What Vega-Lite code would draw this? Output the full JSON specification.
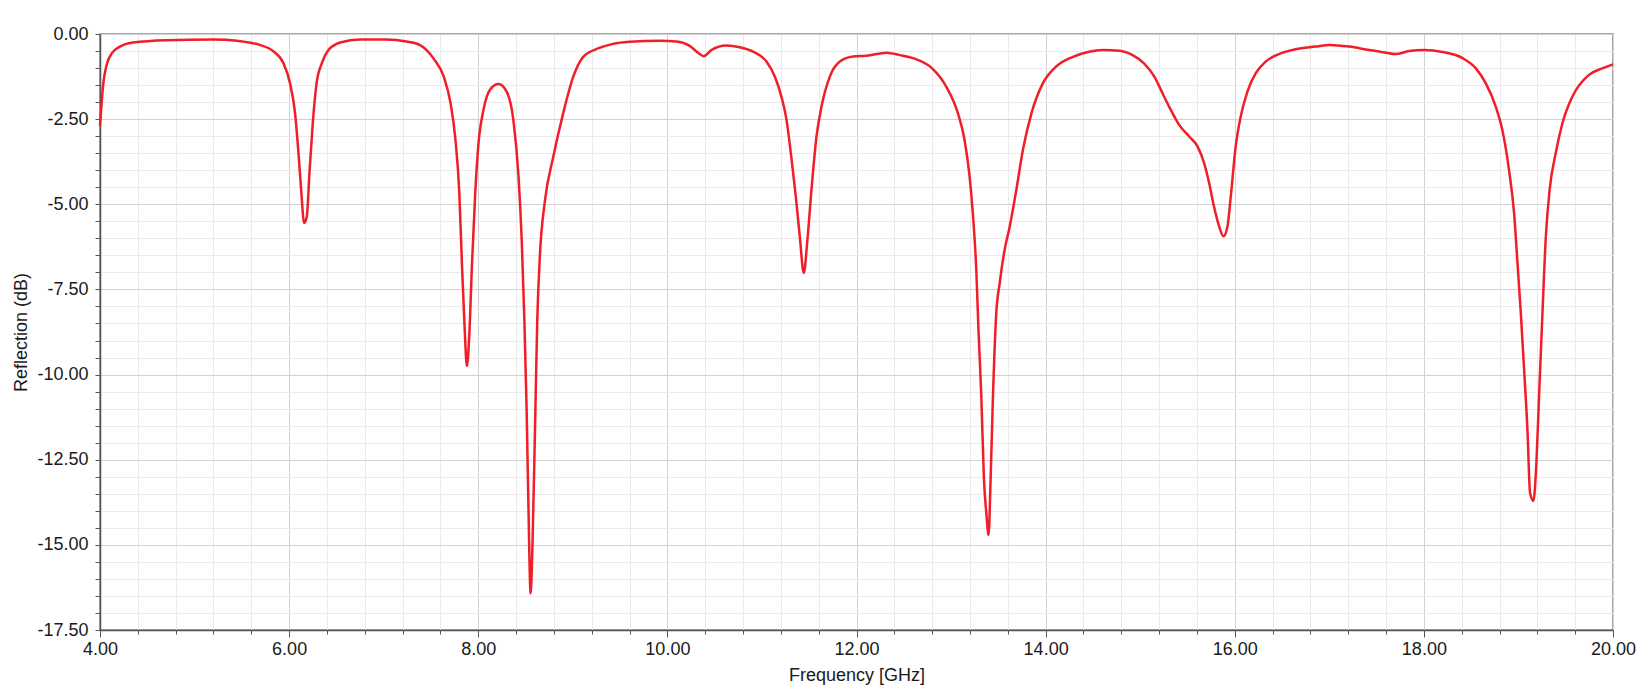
{
  "$schema": "https://vega.github.io/schema/vega-lite/v6.json",
  "width": 1513,
  "height": 596,
  "autosize": {"type": "none"},
  "padding": {"left": 100, "top": 34, "right": 27, "bottom": 62},
  "background": "white",
  "config": {
    "view": {"stroke": "#8c8c8c", "strokeWidth": 1.5},
    "font": "Liberation Sans",
    "axis": {"labelFont": "Liberation Sans", "titleFont": "Liberation Sans", "labelColor": "#1a1a1a", "titleColor": "#1a1a1a", "titleFontWeight": "normal", "labelFontSize": 18, "titleFontSize": 18, "labelOverlap": false, "labelBound": false, "labelFlush": false}
  },
  "data": {"values": [
    {"f": 4.0, "db": -2.7}, {"f": 4.035, "db": -1.45}, {"f": 4.07, "db": -0.91}, {"f": 4.124, "db": -0.57},
    {"f": 4.21, "db": -0.37}, {"f": 4.35, "db": -0.25}, {"f": 4.7, "db": -0.18}, {"f": 5.2, "db": -0.16},
    {"f": 5.45, "db": -0.2}, {"f": 5.69, "db": -0.32}, {"f": 5.83, "db": -0.5}, {"f": 5.94, "db": -0.86},
    {"f": 6.01, "db": -1.45}, {"f": 6.063, "db": -2.33}, {"f": 6.099, "db": -3.5}, {"f": 6.127, "db": -4.57},
    {"f": 6.159, "db": -5.55}, {"f": 6.187, "db": -5.36}, {"f": 6.215, "db": -4.08}, {"f": 6.25, "db": -2.62},
    {"f": 6.29, "db": -1.45}, {"f": 6.345, "db": -0.86}, {"f": 6.416, "db": -0.47}, {"f": 6.54, "db": -0.25},
    {"f": 6.75, "db": -0.16}, {"f": 7.03, "db": -0.16}, {"f": 7.24, "db": -0.22}, {"f": 7.38, "db": -0.32},
    {"f": 7.53, "db": -0.73}, {"f": 7.636, "db": -1.26}, {"f": 7.705, "db": -2.0}, {"f": 7.758, "db": -3.08},
    {"f": 7.8, "db": -4.68}, {"f": 7.828, "db": -6.8}, {"f": 7.856, "db": -8.63}, {"f": 7.88, "db": -9.75},
    {"f": 7.905, "db": -8.85}, {"f": 7.933, "db": -6.8}, {"f": 7.968, "db": -4.68}, {"f": 8.0, "db": -3.29},
    {"f": 8.056, "db": -2.22}, {"f": 8.126, "db": -1.63}, {"f": 8.214, "db": -1.47}, {"f": 8.3, "db": -1.69},
    {"f": 8.372, "db": -2.54}, {"f": 8.425, "db": -4.15}, {"f": 8.46, "db": -6.07}, {"f": 8.488, "db": -8.42},
    {"f": 8.512, "db": -11.09}, {"f": 8.53, "db": -13.76}, {"f": 8.554, "db": -16.43}, {"f": 8.575, "db": -14.83},
    {"f": 8.6, "db": -11.62}, {"f": 8.624, "db": -8.42}, {"f": 8.652, "db": -6.5}, {"f": 8.705, "db": -4.9},
    {"f": 8.793, "db": -3.61}, {"f": 8.898, "db": -2.33}, {"f": 9.004, "db": -1.26}, {"f": 9.11, "db": -0.67},
    {"f": 9.28, "db": -0.41}, {"f": 9.425, "db": -0.29}, {"f": 9.6, "db": -0.23}, {"f": 9.92, "db": -0.2},
    {"f": 10.095, "db": -0.22}, {"f": 10.236, "db": -0.35}, {"f": 10.325, "db": -0.55}, {"f": 10.385, "db": -0.65},
    {"f": 10.466, "db": -0.47}, {"f": 10.624, "db": -0.34}, {"f": 10.765, "db": -0.39}, {"f": 10.906, "db": -0.52},
    {"f": 11.048, "db": -0.81}, {"f": 11.136, "db": -1.25}, {"f": 11.206, "db": -1.84}, {"f": 11.26, "db": -2.52},
    {"f": 11.31, "db": -3.6}, {"f": 11.358, "db": -4.77}, {"f": 11.4, "db": -5.94}, {"f": 11.443, "db": -7.02},
    {"f": 11.478, "db": -6.14}, {"f": 11.524, "db": -4.57}, {"f": 11.577, "db": -3.01}, {"f": 11.63, "db": -2.13},
    {"f": 11.718, "db": -1.25}, {"f": 11.824, "db": -0.81}, {"f": 11.965, "db": -0.66}, {"f": 12.106, "db": -0.64},
    {"f": 12.317, "db": -0.55}, {"f": 12.459, "db": -0.62}, {"f": 12.597, "db": -0.71}, {"f": 12.8, "db": -1.01},
    {"f": 12.95, "db": -1.55}, {"f": 13.073, "db": -2.33}, {"f": 13.143, "db": -3.11}, {"f": 13.196, "db": -4.19},
    {"f": 13.23, "db": -5.26}, {"f": 13.267, "db": -6.93}, {"f": 13.29, "db": -8.69}, {"f": 13.32, "db": -10.65},
    {"f": 13.348, "db": -13.09}, {"f": 13.373, "db": -14.07}, {"f": 13.397, "db": -14.71}, {"f": 13.418, "db": -13.09},
    {"f": 13.443, "db": -10.65}, {"f": 13.478, "db": -8.2}, {"f": 13.514, "db": -7.32}, {"f": 13.566, "db": -6.34},
    {"f": 13.62, "db": -5.66}, {"f": 13.69, "db": -4.58}, {"f": 13.76, "db": -3.4}, {"f": 13.85, "db": -2.33},
    {"f": 13.97, "db": -1.45}, {"f": 14.11, "db": -0.96}, {"f": 14.29, "db": -0.67}, {"f": 14.46, "db": -0.52},
    {"f": 14.6, "db": -0.47}, {"f": 14.78, "db": -0.49}, {"f": 14.92, "db": -0.62}, {"f": 15.04, "db": -0.86},
    {"f": 15.15, "db": -1.25}, {"f": 15.236, "db": -1.74}, {"f": 15.324, "db": -2.23}, {"f": 15.412, "db": -2.67},
    {"f": 15.518, "db": -3.01}, {"f": 15.606, "db": -3.3}, {"f": 15.676, "db": -3.79}, {"f": 15.73, "db": -4.38},
    {"f": 15.78, "db": -5.06}, {"f": 15.835, "db": -5.65}, {"f": 15.88, "db": -5.94}, {"f": 15.923, "db": -5.65},
    {"f": 15.958, "db": -4.77}, {"f": 16.01, "db": -3.3}, {"f": 16.063, "db": -2.42}, {"f": 16.134, "db": -1.69},
    {"f": 16.222, "db": -1.15}, {"f": 16.327, "db": -0.81}, {"f": 16.468, "db": -0.59}, {"f": 16.644, "db": -0.45},
    {"f": 16.856, "db": -0.37}, {"f": 17.0, "db": -0.32}, {"f": 17.21, "db": -0.37}, {"f": 17.42, "db": -0.47},
    {"f": 17.6, "db": -0.55}, {"f": 17.7, "db": -0.59}, {"f": 17.845, "db": -0.5}, {"f": 18.0, "db": -0.47},
    {"f": 18.2, "db": -0.53}, {"f": 18.41, "db": -0.71}, {"f": 18.55, "db": -1.01}, {"f": 18.655, "db": -1.45},
    {"f": 18.76, "db": -2.13}, {"f": 18.83, "db": -2.82}, {"f": 18.9, "db": -3.99}, {"f": 18.954, "db": -5.26},
    {"f": 18.99, "db": -6.73}, {"f": 19.025, "db": -8.19}, {"f": 19.06, "db": -9.85}, {"f": 19.095, "db": -11.61},
    {"f": 19.123, "db": -13.47}, {"f": 19.158, "db": -13.71}, {"f": 19.19, "db": -12.59}, {"f": 19.218, "db": -10.64},
    {"f": 19.254, "db": -8.19}, {"f": 19.29, "db": -5.94}, {"f": 19.33, "db": -4.57}, {"f": 19.394, "db": -3.5},
    {"f": 19.465, "db": -2.62}, {"f": 19.57, "db": -1.84}, {"f": 19.746, "db": -1.2}, {"f": 19.887, "db": -1.01},
    {"f": 20.0, "db": -0.89}
  ]},
  "resolve": {"axis": {"x": "independent", "y": "independent"}},
  "layer": [
    {
      "mark": {"type": "line", "opacity": 0},
      "encoding": {
        "x": {"field": "f", "type": "quantitative", "scale": {"domain": [4, 20], "nice": false, "zero": false},
          "axis": {"orient": "bottom", "values": [4.4, 4.8, 5.2, 5.6, 6.4, 6.8, 7.2, 7.6, 8.4, 8.8, 9.2, 9.6, 10.4, 10.8, 11.2, 11.6, 12.4, 12.8, 13.2, 13.6, 14.4, 14.8, 15.2, 15.6, 16.4, 16.8, 17.2, 17.6, 18.4, 18.8, 19.2, 19.6],
            "labels": false, "title": null, "domain": false, "grid": true, "gridColor": "#ebebeb", "gridWidth": 1, "ticks": true, "tickSize": 4, "tickColor": "#555555", "tickWidth": 1}},
        "y": {"field": "db", "type": "quantitative", "scale": {"domain": [-17.5, 0], "nice": false, "zero": false},
          "axis": {"orient": "left", "values": [-0.5, -1, -1.5, -2, -3, -3.5, -4, -4.5, -5.5, -6, -6.5, -7, -8, -8.5, -9, -9.5, -10.5, -11, -11.5, -12, -13, -13.5, -14, -14.5, -15.5, -16, -16.5, -17],
            "labels": false, "title": null, "domain": false, "grid": true, "gridColor": "#ebebeb", "gridWidth": 1, "ticks": true, "tickSize": 5, "tickColor": "#555555", "tickWidth": 1}}
      }
    },
    {
      "mark": {"type": "line", "color": "#f01e28", "strokeWidth": 2.5, "interpolate": "monotone"},
      "encoding": {
        "x": {"field": "f", "type": "quantitative", "scale": {"domain": [4, 20], "nice": false, "zero": false},
          "axis": {"orient": "bottom", "values": [4, 6, 8, 10, 12, 14, 16, 18, 20], "format": ".2f", "title": "Frequency [GHz]",
            "grid": true, "gridColor": "#d2d2d2", "gridWidth": 1, "domain": true, "domainColor": "#555555", "domainWidth": 1.5,
            "ticks": true, "tickSize": 7, "tickColor": "#555555", "tickWidth": 1, "labelPadding": 3, "titlePadding": 8}},
        "y": {"field": "db", "type": "quantitative", "scale": {"domain": [-17.5, 0], "nice": false, "zero": false},
          "axis": {"orient": "left", "values": [0, -2.5, -5, -7.5, -10, -12.5, -15, -17.5], "format": ".2f",
            "labelExpr": "replace(format(datum.value, '.2f'), '\u2212', '-')", "title": "Reflection (dB)",
            "grid": true, "gridColor": "#d2d2d2", "gridWidth": 1, "domain": true, "domainColor": "#555555", "domainWidth": 1.5,
            "ticks": true, "tickSize": 5, "tickColor": "#555555", "tickWidth": 1, "labelPadding": 7, "titlePadding": 6}}
      }
    }
  ]
}
